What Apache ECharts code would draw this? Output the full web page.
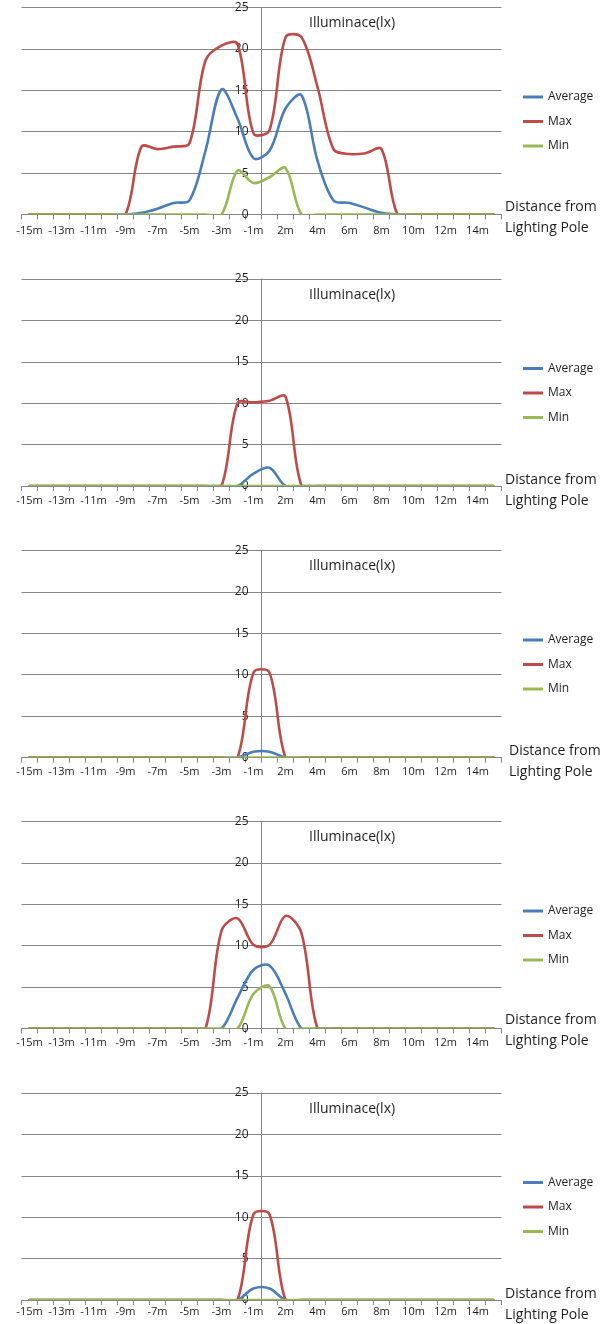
<!DOCTYPE html>
<html>
<head>
<meta charset="utf-8">
<script src="https://cdn.jsdelivr.net/npm/echarts@6/dist/echarts.min.js"></script>
<style>
html,body{margin:0;padding:0;background:#ffffff;}
#chart{width:609px;height:1324px;}
</style>
</head>
<body>
<div id="chart"></div>
<script>
// ---- data ----
const categories = ['-15m','-14m','-13m','-12m','-11m','-10m','-9m','-8m','-7m','-6m','-5m','-4m','-3m','-2m','-1m',
                    '1m','2m','3m','4m','5m','6m','7m','8m','9m','10m','11m','12m','13m','14m','15m'];
const yTickLabels = [0, 5, 10, 15, 20, 25];
const seriesNames = ['Average', 'Max', 'Min'];
const chartTitle = 'Illuminace(lx)';
const xAxisTitle = 'Distance from\nLighting Pole';

// Panel 1
const avg1 = [0,0,0,0,0,0,0,0.2,0.7,1.4,1.7,7.7,15.1,11.6,6.8,7.7,12.8,14.4,6.5,1.7,1.4,0.8,0.2,0,0,0,0,0,0,0];
const max1 = [0,0,0,0,0,0,0,8.2,7.9,8.2,8.6,18.6,20.4,20.6,9.8,10.2,21.4,21.4,15.4,7.9,7.3,7.4,7.9,0,0,0,0,0,0,0];
const min1 = [0,0,0,0,0,0,0,0,0,0,0,0,0,5.3,3.8,4.5,5.6,0,0,0,0,0,0,0,0,0,0,0,0,0];
// Panel 2
const avg2 = [0,0,0,0,0,0,0,0,0,0,0,0,0,0,1.5,2.2,0,0,0,0,0,0,0,0,0,0,0,0,0,0];
const max2 = [0,0,0,0,0,0,0,0,0,0,0,0,0,10.0,10.1,10.3,10.8,0,0,0,0,0,0,0,0,0,0,0,0,0];
const min2 = [0,0,0,0,0,0,0,0,0,0,0,0,0,0,0,0,0,0,0,0,0,0,0,0,0,0,0,0,0,0];
// Panel 3
const avg3 = [0,0,0,0,0,0,0,0,0,0,0,0,0,0,0.7,0.7,0,0,0,0,0,0,0,0,0,0,0,0,0,0];
const max3 = [0,0,0,0,0,0,0,0,0,0,0,0,0,0,10.25,10.25,0,0,0,0,0,0,0,0,0,0,0,0,0,0];
const min3 = [0,0,0,0,0,0,0,0,0,0,0,0,0,0,0,0,0,0,0,0,0,0,0,0,0,0,0,0,0,0];
// Panel 4
const avg4 = [0,0,0,0,0,0,0,0,0,0,0,0,0,3.7,7.1,7.6,4.2,0,0,0,0,0,0,0,0,0,0,0,0,0];
const max4 = [0,0,0,0,0,0,0,0,0,0,0,0,11.8,13.3,10.1,10.1,13.6,11.5,0,0,0,0,0,0,0,0,0,0,0,0];
const min4 = [0,0,0,0,0,0,0,0,0,0,0,0,0,0,4.2,5.1,0,0,0,0,0,0,0,0,0,0,0,0,0,0];
// Panel 5
const avg5 = [0,0,0,0,0,0,0,0,0,0,0,0,0,0,1.4,1.4,0,0,0,0,0,0,0,0,0,0,0,0,0,0];
const max5 = [0,0,0,0,0,0,0,0,0,0,0,0,0,0,10.35,10.35,0,0,0,0,0,0,0,0,0,0,0,0,0,0];
const min5 = [0,0,0,0,0,0,0,0,0,0,0,0,0,0,0,0,0,0,0,0,0,0,0,0,0,0,0,0,0,0];

const panelData = [
  [avg1, max1, min1],
  [avg2, max2, min2],
  [avg3, max3, min3],
  [avg4, max4, min4],
  [avg5, max5, min5]
];

// ---- layout / style ----
const panelTops = [7.5, 279, 550.5, 821.5, 1093];
const labelMargins = [11, 9, 9, 8.5, 6.5];
const nameShift = [3.5, 4.5, 4, 2.5, 4.5];
const nameLeft = [505, 505, 509, 505, 505];
const plotLeft = 21.5;
const plotWidth = 480;
const plotHeight = 207;
const colors = ['#4A7EBB', '#BE4B48', '#98B954'];
const gridColor = '#868686';
const textColor = '#1e1e1e';
const font = '"Open Sans", "Noto Sans", sans-serif';

function dist(a, b) { return Math.sqrt((a[0] - b[0]) * (a[0] - b[0]) + (a[1] - b[1]) * (a[1] - b[1])); }

// Excel-like smoothed line: bezier with length-weighted Catmull-Rom tangents,
// positioned through the axes' own scales and clipped to the plot area.
function smoothRenderer(vals, color) {
  return function (params, api) {
    if (params.dataIndex !== 0) return;
    const cs = params.coordSys;
    const pts = vals.map(function (v, i) { return api.coord([i, v]); });
    const n = pts.length;
    let d = 'M' + pts[0][0] + ' ' + pts[0][1];
    for (let i = 0; i < n - 1; i++) {
      const p0 = pts[Math.max(i - 1, 0)], p1 = pts[i], p2 = pts[i + 1], p3 = pts[Math.min(i + 2, n - 1)];
      const d01 = dist(p0, p1), d12 = dist(p1, p2), d23 = dist(p2, p3);
      const f1 = (d01 + d12) > 0 ? 2 * d12 / (d01 + d12) : 1;
      const f2 = (d12 + d23) > 0 ? 2 * d12 / (d12 + d23) : 1;
      const c1x = p1[0] + (p2[0] - p0[0]) / 6 * f1;
      const c1y = p1[1] + (p2[1] - p0[1]) / 6 * f1;
      const c2x = p2[0] - (p3[0] - p1[0]) / 6 * f2;
      const c2y = p2[1] - (p3[1] - p1[1]) / 6 * f2;
      d += ' C' + c1x + ' ' + c1y + ' ' + c2x + ' ' + c2y + ' ' + p2[0] + ' ' + p2[1];
    }
    return {
      type: 'path',
      shape: { pathData: d },
      style: { fill: 'none', stroke: color, lineWidth: 2.6, lineJoin: 'round', lineCap: 'round' },
      clipPath: { type: 'rect', shape: { x: cs.x, y: cs.y, width: cs.width, height: cs.height } },
      silent: true
    };
  };
}

const grids = [], xAxes = [], yAxes = [], series = [], titles = [], legends = [];

panelData.forEach(function (rows, k) {
  const top = panelTops[k];
  grids.push({
    left: plotLeft, top: top, width: plotWidth, height: plotHeight,
    containLabel: false, outerBoundsMode: 'none'
  });
  xAxes.push({
    type: 'category', gridIndex: k, data: categories, boundaryGap: true,
    axisLine: { show: true, onZero: true, lineStyle: { color: gridColor, width: 1 } },
    axisTick: { show: true, interval: 0, length: 5, lineStyle: { color: gridColor, width: 1 } },
    axisLabel: { interval: 1, margin: labelMargins[k], fontFamily: font, fontSize: 11, color: textColor },
    splitLine: { show: false }
  });
  yAxes.push({
    type: 'value', gridIndex: k,
    min: yTickLabels[0], max: yTickLabels[yTickLabels.length - 1],
    interval: yTickLabels[1] - yTickLabels[0],
    position: 'left', offset: -plotWidth / 2,
    axisLine: { show: true, lineStyle: { color: gridColor, width: 1 } },
    axisTick: { show: false },
    axisLabel: { margin: 13, fontFamily: font, fontSize: 12, color: textColor },
    splitLine: { show: true, lineStyle: { color: gridColor, width: 1 } }
  });
  titles.push({
    text: chartTitle, left: 309, top: top + 8, padding: 0,
    textStyle: { fontFamily: font, fontSize: 14, fontWeight: 'normal', color: textColor, lineHeight: 16 }
  });
  // x-axis title, two lines to the right of the axis end
  titles.push({
    text: xAxisTitle, left: nameLeft[k], top: top + plotHeight + nameShift[k] - 21, padding: 0,
    textStyle: { fontFamily: font, fontSize: 14, fontWeight: 'normal', color: textColor, lineHeight: 21 }
  });
  legends.push({
    data: seriesNames, orient: 'vertical', left: 523, top: top + 82.5, padding: 0,
    itemGap: 10.5, itemWidth: 20, itemHeight: 3, icon: 'rect', selectedMode: false,
    textStyle: { fontFamily: font, fontSize: 12, color: textColor, lineHeight: 14 }
  });
  rows.forEach(function (vals, j) {
    series.push({
      type: 'custom', name: seriesNames[j], coordinateSystem: 'cartesian2d',
      xAxisIndex: k, yAxisIndex: k,
      data: vals.map(function (v, i) { return [i, v]; }),
      encode: { x: 0, y: 1 },
      renderItem: smoothRenderer(vals, colors[j]),
      itemStyle: { color: colors[j] },
      z: 3 + j
    });
  });
});

const chart = echarts.init(document.getElementById('chart'), null, { renderer: 'canvas' });
chart.setOption({
  animation: false,
  backgroundColor: '#ffffff',
  title: titles,
  legend: legends,
  grid: grids,
  xAxis: xAxes,
  yAxis: yAxes,
  series: series
});
</script>
</body>
</html>
